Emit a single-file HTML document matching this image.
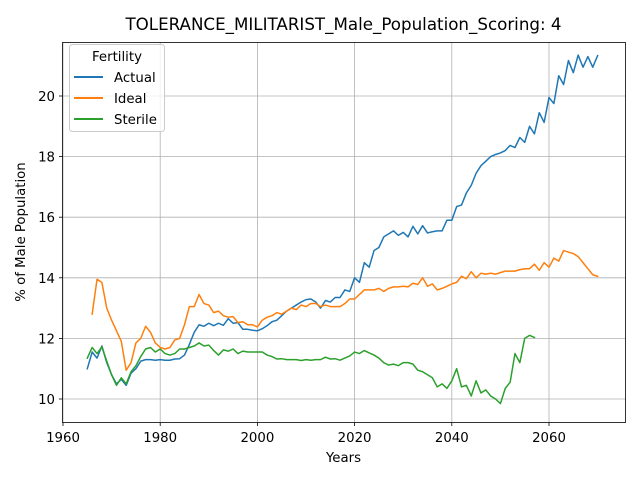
<!DOCTYPE html>
<html><head><meta charset="utf-8"><style>
body{margin:0;background:#fff;}
svg text{font-family:"DejaVu Sans","Liberation Sans",sans-serif;}
</style></head><body>
<svg id="chart" width="640" height="480" xmlns="http://www.w3.org/2000/svg">
<rect width="640" height="480" fill="#fff"/>
<text x="343.5" y="30" font-size="16.7" text-anchor="middle">TOLERANCE_MILITARIST_Male_Population_Scoring: 4</text>
<g id="grid"></g>
<g id="series"></g>
<rect x="62.5" y="42.5" width="563" height="380" fill="none" stroke="#000" stroke-width="0.8"/>
<g id="ticks"></g>
<text x="343.5" y="462" font-size="13.3" text-anchor="middle">Years</text>
<text transform="translate(25,232) rotate(-90)" font-size="13.3" text-anchor="middle">% of Male Population</text>
<g>
<rect x="69.5" y="44.5" width="95" height="87" rx="3" fill="#fff" fill-opacity="0.8" stroke="#ccc"/>
<text x="117" y="61" font-size="13.3" text-anchor="middle">Fertility</text>
<g><line x1="74" y1="77" x2="103" y2="77" stroke="#1f77b4" stroke-width="2"/><text x="114" y="82" font-size="13.3">Actual</text></g>
<g><line x1="74" y1="98" x2="103" y2="98" stroke="#ff7f0e" stroke-width="2"/><text x="114" y="103" font-size="13.3">Ideal</text></g>
<g><line x1="74" y1="119" x2="103" y2="119" stroke="#2ca02c" stroke-width="2"/><text x="114" y="124" font-size="13.3">Sterile</text></g>
</g>
</svg>
<script>
const xTicks=[1960,1980,2000,2020,2040,2060];
const yTicks=[10,12,14,16,18,20];
const actualStart=1965;
const actual=[11.0,11.55,11.35,11.75,11.2,10.8,10.5,10.65,10.45,10.85,11.0,11.25,11.3,11.3,11.28,11.3,11.28,11.28,11.32,11.33,11.45,11.8,12.2,12.45,12.4,12.5,12.42,12.5,12.43,12.65,12.5,12.52,12.3,12.3,12.27,12.25,12.32,12.42,12.55,12.6,12.75,12.9,13.0,13.1,13.2,13.28,13.3,13.2,13.0,13.25,13.2,13.35,13.35,13.6,13.55,14.0,13.85,14.5,14.35,14.9,15.0,15.35,15.45,15.55,15.4,15.5,15.35,15.7,15.45,15.72,15.48,15.52,15.55,15.55,15.9,15.9,16.35,16.4,16.8,17.05,17.45,17.7,17.85,18.0,18.07,18.12,18.2,18.37,18.3,18.63,18.47,19.0,18.75,19.45,19.13,19.95,19.75,20.67,20.38,21.17,20.77,21.35,20.95,21.3,20.95,21.33];
const idealStart=1966;
const ideal=[12.8,13.95,13.85,13.0,12.6,12.25,11.9,10.95,11.2,11.85,12.0,12.4,12.2,11.85,11.7,11.65,11.7,11.95,12.0,12.45,13.05,13.05,13.45,13.15,13.1,12.85,12.9,12.75,12.7,12.72,12.52,12.55,12.45,12.45,12.38,12.6,12.7,12.75,12.85,12.8,12.9,13.0,12.95,13.1,13.05,13.15,13.15,13.05,13.1,13.05,13.05,13.05,13.15,13.3,13.3,13.45,13.6,13.6,13.6,13.65,13.55,13.65,13.7,13.7,13.72,13.7,13.82,13.78,14.0,13.72,13.8,13.6,13.65,13.72,13.8,13.85,14.05,13.97,14.2,14.0,14.15,14.12,14.15,14.12,14.17,14.22,14.22,14.22,14.27,14.3,14.3,14.45,14.25,14.5,14.35,14.65,14.55,14.9,14.85,14.8,14.7,14.5,14.3,14.1,14.05];
const sterileStart=1965;
const sterile=[11.35,11.7,11.5,11.72,11.25,10.8,10.45,10.7,10.5,10.9,11.1,11.4,11.65,11.7,11.55,11.65,11.5,11.45,11.5,11.65,11.65,11.7,11.75,11.85,11.75,11.78,11.6,11.45,11.62,11.58,11.65,11.5,11.58,11.55,11.55,11.55,11.55,11.45,11.4,11.32,11.33,11.3,11.3,11.3,11.27,11.3,11.28,11.3,11.3,11.38,11.32,11.33,11.28,11.35,11.42,11.55,11.5,11.6,11.52,11.45,11.35,11.2,11.12,11.15,11.1,11.2,11.2,11.15,10.95,10.9,10.8,10.7,10.4,10.5,10.35,10.6,11.0,10.4,10.45,10.1,10.6,10.2,10.3,10.1,10.0,9.85,10.35,10.55,11.5,11.2,12.0,12.1,12.03];

const NS='http://www.w3.org/2000/svg';
function xS(v){return 63+(v-1960)*(549-63)/100;}
function yS(v){return 399-(v-10)*(399-96)/10;}
function mk(tag,attrs,parent){const e=document.createElementNS(NS,tag);for(const k in attrs)e.setAttribute(k,attrs[k]);parent.appendChild(e);return e;}
const grid=document.getElementById('grid'),ticks=document.getElementById('ticks'),ser=document.getElementById('series');
xTicks.forEach(t=>{const x=xS(t);
 const g=mk('line',{x1:x,x2:x,y1:42.5,y2:422.5,stroke:'#b0b0b0','stroke-width':0.8},grid);
 
 
 mk('line',{x1:x,x2:x,y1:422.5,y2:426,stroke:'#000','stroke-width':0.8},ticks);
 const tx=mk('text',{x:x,y:442,'font-size':13.3,'text-anchor':'middle'},ticks);tx.textContent=t;
 
 
});
yTicks.forEach(t=>{const y=yS(t);
 const g=mk('line',{x1:62.5,x2:625.5,y1:y,y2:y,stroke:'#b0b0b0','stroke-width':0.8},grid);
 
 
 mk('line',{x1:59,x2:62.5,y1:y,y2:y,stroke:'#000','stroke-width':0.8},ticks);
 const tx=mk('text',{x:55,y:y+5,'font-size':13.3,'text-anchor':'end'},ticks);tx.textContent=t;
 
 
});
function line(vals,start,color,name){
 const pts=vals.map((v,i)=>xS(start+i).toFixed(2)+','+yS(v).toFixed(2)).join(' ');
 const p=mk('polyline',{points:pts,fill:'none',stroke:color,'stroke-width':1.5,'stroke-linejoin':'round','stroke-linecap':'square'},ser);
 
 
}
line(actual,actualStart,'#1f77b4','actual-line');
line(ideal,idealStart,'#ff7f0e','ideal-line');
line(sterile,sterileStart,'#2ca02c','sterile-line');
</script>
</body></html>
